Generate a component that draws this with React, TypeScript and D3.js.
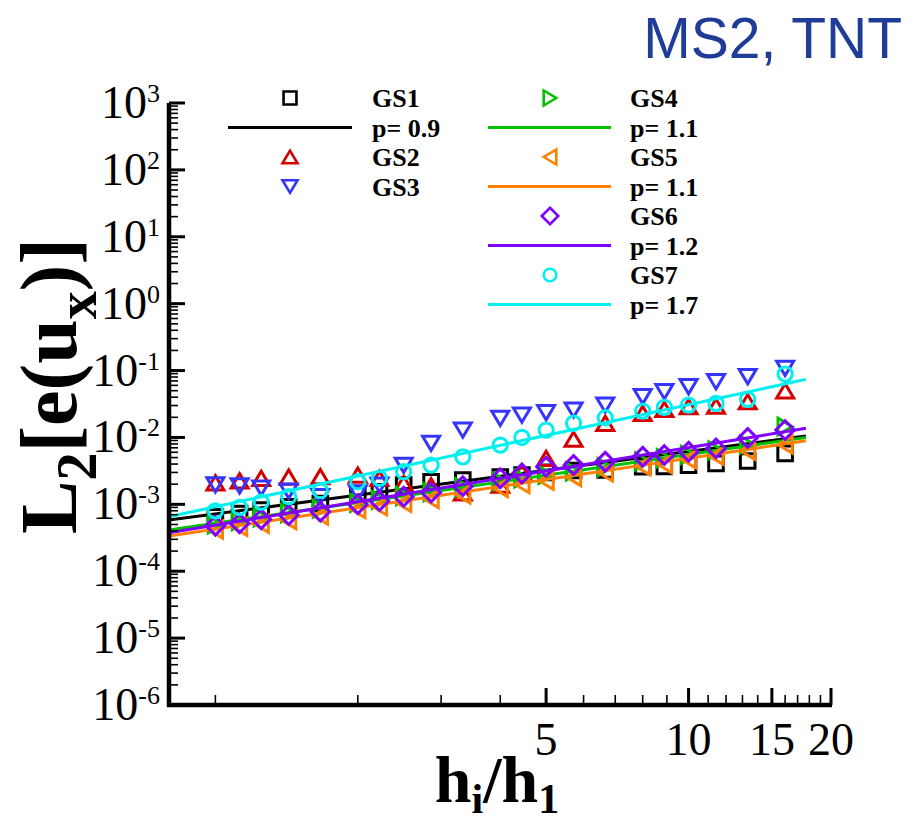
import React from "react";
import * as d3 from "d3";

const W = 915;
const H = 825;

// grid refinement ratios h_i/h_1
const xVals = [1, 1.125, 1.25, 1.4286, 1.6667, 2, 2.2222, 2.5, 2.8571, 3.3333, 4, 4.4444, 5, 5.7143, 6.6667, 8, 8.8889, 10, 11.429, 13.333, 16];

const gs1 = [6.5e-4, 7.3e-4, 8.2e-4, 9.2e-4, 1.03e-3, 1.38e-3, 1.54e-3, 1.94e-3, 2.18e-3, 2.31e-3, 2.56e-3, 2.74e-3, 3.0e-3, 3.2e-3, 3.26e-3, 3.65e-3, 3.7e-3, 3.86e-3, 4.1e-3, 4.44e-3, 5.78e-3];
const gs2 = [2.1e-3, 2.25e-3, 2.45e-3, 2.56e-3, 2.59e-3, 2.74e-3, 2.45e-3, 2.06e-3, 1.9e-3, 1.48e-3, 1.94e-3, 3.07e-3, 4.87e-3, 9.46e-3, 1.63e-2, 2.29e-2, 2.63e-2, 2.88e-2, 2.94e-2, 3.42e-2, 4.99e-2];
const gs3 = [1.95e-3, 1.88e-3, 1.75e-3, 1.57e-3, 1.3e-3, 1.48e-3, 1.94e-3, 3.83e-3, 8.17e-3, 1.29e-2, 1.93e-2, 2.16e-2, 2.34e-2, 2.57e-2, 3.05e-2, 4.06e-2, 4.82e-2, 5.73e-2, 6.8e-2, 8.08e-2, 0.108];
const gs4 = [5.0e-4, 5.6e-4, 6.4e-4, 7.4e-4, 8.6e-4, 1.05e-3, 1.17e-3, 1.33e-3, 1.52e-3, 1.8e-3, 2.2e-3, 2.45e-3, 2.75e-3, 3.1e-3, 3.6e-3, 4.4e-3, 4.9e-3, 5.5e-3, 6.4e-3, 7.8e-3, 1.45e-2];
const gs5 = [4.2e-4, 4.6e-4, 5.1e-4, 5.8e-4, 6.8e-4, 8.5e-4, 9.3e-4, 1.05e-3, 1.2e-3, 1.4e-3, 1.75e-3, 2.0e-3, 2.25e-3, 2.55e-3, 3.0e-3, 3.7e-3, 4.0e-3, 4.7e-3, 5.3e-3, 6.3e-3, 7.8e-3];
const gs6 = [4.8e-4, 5.2e-4, 6.0e-4, 6.9e-4, 7.75e-4, 1.0e-3, 1.12e-3, 1.3e-3, 1.5e-3, 1.87e-3, 2.45e-3, 2.9e-3, 3.65e-3, 3.87e-3, 4.34e-3, 5.14e-3, 5.45e-3, 6.11e-3, 6.86e-3, 9.8e-3, 1.29e-2];
const gs7 = [8.0e-4, 9.0e-4, 1.08e-3, 1.3e-3, 1.6e-3, 2.18e-3, 2.45e-3, 3.07e-3, 3.86e-3, 5.14e-3, 7.7e-3, 1.0e-2, 1.29e-2, 1.63e-2, 1.97e-2, 2.48e-2, 2.82e-2, 3.05e-2, 3.23e-2, 3.72e-2, 8.87e-2];

// fitted lines (end points)
const fitX = [0.798, 17.7];
const fit1 = [5.82e-4, 1.05e-2];
const fit4 = [4.13e-4, 1.0e-2];
const fit5 = [3.36e-4, 8.93e-3];
const fit6 = [3.77e-4, 1.37e-2];
const fit7 = [6.53e-4, 7.38e-2];

const seriesNames = ["GS1", "GS2", "GS3", "GS4", "GS5", "GS6", "GS7"];
const seriesData = [gs1, gs2, gs3, gs4, gs5, gs6, gs7];
const seriesColors = ["#000000", "#d40000", "#3535ff", "#00c000", "#ff8000", "#8000ff", "#00f0f0"];
const seriesSymbols = ["square", "triUp", "triDown", "triRight", "triLeft", "diamond", "circle"];
const seriesFits = [fit1, null, null, fit4, fit5, fit6, fit7];
const fitLabels = ["p= 0.9", "", "", "p= 1.1", "p= 1.1", "p= 1.2", "p= 1.7"];

const xMajorTicks = [5, 10, 15, 20];
const xMinorTicks = [1, 2, 3, 4, 6, 7, 8, 9, 11, 12, 13, 14, 16, 17, 18, 19];
const yExponents = [-6, -5, -4, -3, -2, -1, 0, 1, 2, 3];

const SERIF = "'Liberation Serif', 'Times New Roman', Times, serif";
const SANS = "'Liberation Sans', Arial, Helvetica, sans-serif";

function markerPath(sym: string, s: number): string {
  switch (sym) {
    case "square": {
      const h = s * 0.43;
      return `M${-h},${-h}L${h},${-h}L${h},${h}L${-h},${h}Z`;
    }
    case "triUp": {
      const w = s * 0.5, h = s * 0.42;
      return `M0,${-h}L${w},${h}L${-w},${h}Z`;
    }
    case "triDown": {
      const w = s * 0.5, h = s * 0.42;
      return `M0,${h}L${w},${-h}L${-w},${-h}Z`;
    }
    case "triRight": {
      const w = s * 0.5, h = s * 0.42;
      return `M${h},0L${-h},${w}L${-h},${-w}Z`;
    }
    case "triLeft": {
      const w = s * 0.5, h = s * 0.42;
      return `M${-h},0L${h},${w}L${h},${-w}Z`;
    }
    case "diamond": {
      const h = s * 0.55;
      return `M0,${-h}L${h},0L0,${h}L${-h},0Z`;
    }
    default: {
      const r = s * 0.42;
      return `M${r},0A${r},${r} 0 1,1 ${-r},0A${r},${r} 0 1,1 ${r},0Z`;
    }
  }
}

export default function App() {
  const x = d3.scaleLog().domain([0.798, 20]).range([169, 831]);
  const y = d3.scaleLog().domain([1e-6, 1e3]).range([705, 103]);
  const line = d3.line<number[]>().x((d) => x(d[0])).y((d) => y(d[1]));

  const yTicks = y.ticks();
  const isMajor = (v: number) => Math.abs(Math.log10(v) - Math.round(Math.log10(v))) < 1e-6;

  const leftX = 169;
  const bottomY = 705;

  // legend layout
  const rowY = (i: number) => 98 + i * 29.5;
  const legendEntries: any[] = [];
  legendEntries.push({ kind: "marker", s: 0, col: 0, row: 0, label: seriesNames[0] });
  legendEntries.push({ kind: "line", s: 0, col: 0, row: 1, label: fitLabels[0] });
  legendEntries.push({ kind: "marker", s: 1, col: 0, row: 2, label: seriesNames[1] });
  legendEntries.push({ kind: "marker", s: 2, col: 0, row: 3, label: seriesNames[2] });
  let r = 0;
  for (let s = 3; s < 7; s++) {
    legendEntries.push({ kind: "marker", s, col: 1, row: r++, label: seriesNames[s] });
    legendEntries.push({ kind: "line", s, col: 1, row: r++, label: fitLabels[s] });
  }
  const cols = [
    { lx0: 228, lx1: 352, mx: 290, tx: 372 },
    { lx0: 488, lx1: 611, mx: 550, tx: 630 },
  ];

  return (
    <svg width={W} height={H} style={{ position: "absolute", left: 0, top: 0, background: "#fff" }}>
      <rect x={0} y={0} width={W} height={H} fill="#fff" />
      {/* title */}
      <text x={902} y={58} textAnchor="end" fontFamily={SANS} fontSize={57} fill="#1e3c98">
        MS2, TNT
      </text>

      {/* data */}
      {seriesData.map((vals, si) => (
        <g key={si}>
          {vals.map((v, i) => (
            <path
              key={i}
              d={markerPath(seriesSymbols[si], 17)}
              transform={`translate(${x(xVals[i])},${y(v)})`}
              fill="none"
              stroke={seriesColors[si]}
              strokeWidth={3}
            />
          ))}
          {seriesFits[si] && (
            <path
              d={line([
                [fitX[0], seriesFits[si]![0]],
                [fitX[1], seriesFits[si]![1]],
              ]) as string}
              fill="none"
              stroke={seriesColors[si]}
              strokeWidth={3}
            />
          )}
        </g>
      ))}

      {/* axes */}
      <line x1={leftX} y1={103} x2={leftX} y2={bottomY + 2} stroke="#000" strokeWidth={4.5} />
      <line x1={leftX - 2} y1={bottomY} x2={x(20) + 1} y2={bottomY} stroke="#000" strokeWidth={4.5} />
      {yTicks.map((v, i) => {
        const maj = isMajor(v);
        return (
          <line
            key={i}
            x1={leftX}
            x2={leftX + (maj ? 16 : 9)}
            y1={y(v)}
            y2={y(v)}
            stroke="#000"
            strokeWidth={maj ? 3 : 1.6}
          />
        );
      })}
      {xMinorTicks.map((v) => (
        <line key={"xm" + v} x1={x(v)} x2={x(v)} y1={bottomY} y2={bottomY - 10} stroke="#000" strokeWidth={1.6} />
      ))}
      {xMajorTicks.map((v) => (
        <line key={"xM" + v} x1={x(v)} x2={x(v)} y1={bottomY} y2={bottomY - 17} stroke="#000" strokeWidth={3} />
      ))}

      {/* y tick labels */}
      {yExponents.map((e) => (
        <text key={"yl" + e} x={160} y={y(Math.pow(10, e)) + 15} textAnchor="end" fontFamily={SERIF} fontSize={46}>
          10
          <tspan fontSize={26} dy={-16}>
            {e < 0 ? "-" + Math.abs(e) : String(e)}
          </tspan>
        </text>
      ))}

      {/* x tick labels */}
      {xMajorTicks.map((v) => (
        <text key={"xl" + v} x={x(v)} y={755} textAnchor="middle" fontFamily={SERIF} fontSize={46}>
          {v}
        </text>
      ))}

      {/* axis titles */}
      <text x={497} y={802} textAnchor="middle" fontFamily={SERIF} fontWeight="bold" fontSize={66}>
        h
        <tspan fontSize={42} dy={11}>i</tspan>
        <tspan fontSize={66} dy={-11}>/h</tspan>
        <tspan fontSize={42} dy={11}>1</tspan>
      </text>
      <g transform="translate(76,386) rotate(-90)">
        <text x={0} y={0} textAnchor="middle" fontFamily={SERIF} fontWeight="bold" fontSize={80}>
          L
          <tspan fontSize={56} dy={20}>2</tspan>
          <tspan fontSize={80} dy={-20}>[e(u</tspan>
          <tspan fontSize={56} dy={20}>x</tspan>
          <tspan fontSize={80} dy={-20}>)]</tspan>
        </text>
      </g>

      {/* legend */}
      {legendEntries.map((en, i) => {
        const c = cols[en.col];
        const yy = rowY(en.row);
        return (
          <g key={"lg" + i}>
            {en.kind === "marker" ? (
              <path
                d={markerPath(seriesSymbols[en.s], 15)}
                transform={`translate(${c.mx},${yy})`}
                fill="none"
                stroke={seriesColors[en.s]}
                strokeWidth={2.6}
              />
            ) : (
              <line x1={c.lx0} x2={c.lx1} y1={yy} y2={yy} stroke={seriesColors[en.s]} strokeWidth={3} />
            )}
            <text x={c.tx} y={yy + 9} fontFamily={SERIF} fontWeight="bold" fontSize={26}>
              {en.label}
            </text>
          </g>
        );
      })}
    </svg>
  );
}
